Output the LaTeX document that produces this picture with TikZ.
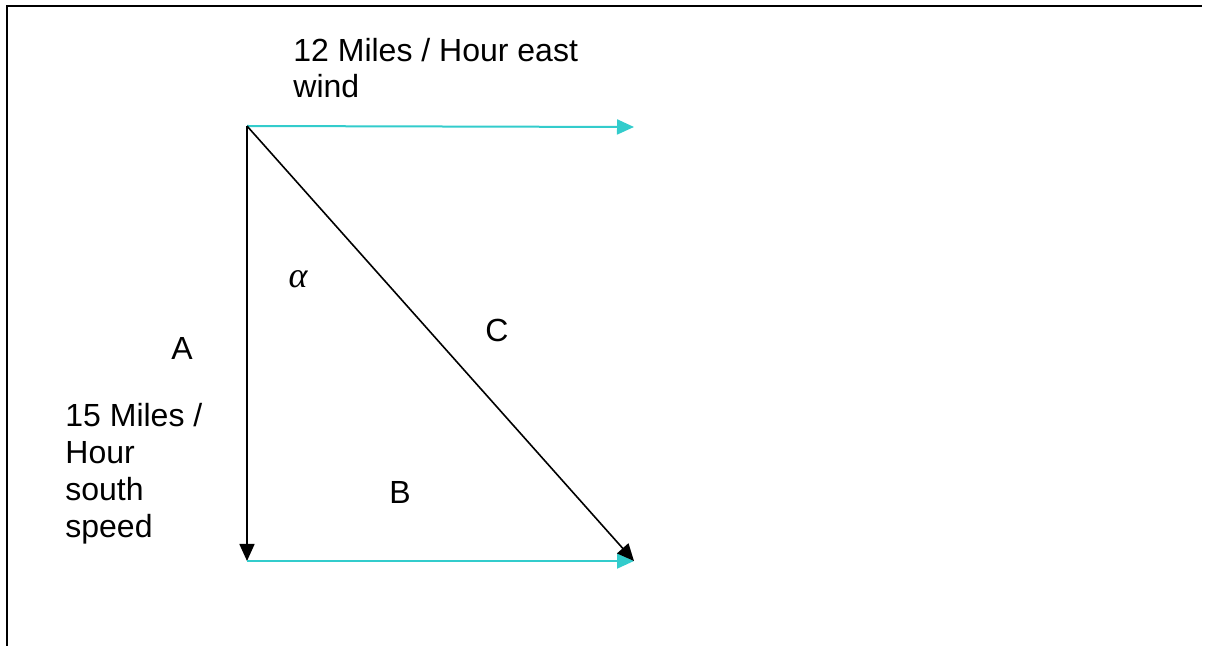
\documentclass[tikz,border=0pt]{standalone}
\usepackage{fontspec}
\setmainfont{Liberation Sans}
\newfontfamily\symbfont{Liberation Serif}
\usepackage{xcolor}
\usetikzlibrary{arrows.meta}
\definecolor{windcyan}{RGB}{51,204,204}

\begin{document}
\begin{tikzpicture}[
  x=0.5pt,
  y=-0.5pt,
  vector/.style={
    draw=black,
    line width=0.8pt,
    -{Triangle[length=8.5pt,width=7.5pt]}
  },
  windvec/.style={
    draw=windcyan,
    line width=1pt,
    -{Triangle[length=8.5pt,width=7.5pt]}
  },
  label/.style={
    inner sep=0pt,
    font=\fontsize{16}{18}\selectfont,
    align=left
  }
]
\useasboundingbox (0,0) rectangle (1211,646);

% Rahmen
\draw[line width=1.3pt] (7,646) -- (7,6) -- (1202,6);

% Eckpunkte
\coordinate (start) at (247,126);
\coordinate (south) at (247,561);
\coordinate (east) at (634,127);
\coordinate (result) at (634,561);

% Vektoren
\draw[windvec] (start) -- (east);
\draw[vector] (start) -- (south);
\draw[windvec] (south) -- (result);
\draw[vector] (start) -- (result);

% Beschriftungen
\node[label,anchor=north west] (windtext) at (293,38)
  {12 Miles / Hour east\\wind};
\node[label,anchor=north west,font=\fontsize{16}{18.5}\selectfont] (speedtext) at (65,403)
  {15 Miles /\\Hour\\south\\speed};
\node[label] (labA) at (182,348) {A};
\node[label] (labB) at (400,492) {B};
\node[label] (labC) at (497,330) {C};
\node[label,font=\fontsize{18}{20}\symbfont\itshape] (alpha) at (298,279) {α};

\end{tikzpicture}
\end{document}
